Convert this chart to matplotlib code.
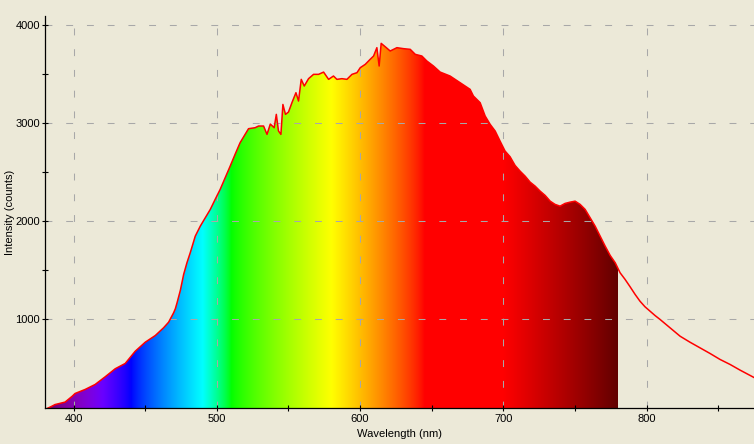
import numpy as np
import matplotlib
matplotlib.use("Agg")
import matplotlib.pyplot as plt

# ---- data ----
wavelength = [380, 384.4, 387, 394, 399, 401, 408, 415, 422, 429, 436, 443, 450, 457,
              462.8, 466.3, 469.8, 471, 472.2, 474.5, 476.8, 479.1, 481.4, 484.9, 488.4,
              491.9, 495.4, 498.8, 502.3, 505.8, 509.3, 512.7, 516.2, 519.7, 522.1, 526.7,
              529.1, 532.6, 535, 537.3, 540, 541.5, 543, 544.7, 546.1, 547.9, 550, 552.4,
              555.2, 557, 558.9, 561, 564, 567.5, 571, 574.5, 578, 581.4, 583.8, 587.3,
              590.8, 594.3, 597.8, 600.1, 603.6, 607, 609.4, 611.7, 613.3, 614.7, 617.5,
              621, 625.7, 630.3, 635, 638.5, 643.1, 646.6, 651.2, 655.9, 662.8, 669.8,
              676.8, 679.1, 683.8, 687.3, 690.8, 694.3, 697.7, 701.2, 704.7, 708.2, 711.7,
              715.2, 718.7, 722.2, 725.7, 729.2, 732.7, 736.1, 739.6, 743.1, 746.6, 750.1,
              753.6, 757.1, 760.6, 764.1, 767.6, 771.1, 774.6, 778.1, 781.5, 785, 788.5,
              792, 795.4, 798.9, 802.4, 805.9, 809.4, 816.4, 823.4, 830.3, 837.3, 844.3,
              851.3, 858.3, 865.3, 872.3, 875]
intensity = [80, 110, 130, 155, 215, 243, 284, 335, 413, 495, 549, 674, 766, 834,
             913, 970, 1066, 1107, 1168, 1295, 1457, 1576, 1678, 1847, 1949,
             2035, 2120, 2222, 2324, 2443, 2562, 2681, 2800, 2885, 2943, 2953,
             2970, 2970, 2885, 2990, 2953, 3089, 2920, 2885, 3190, 3089, 3113, 3208,
             3310, 3225, 3446, 3378, 3453, 3497, 3497, 3520, 3446, 3480, 3446, 3453,
             3446, 3497, 3514, 3565, 3599, 3650, 3684, 3769, 3582, 3813, 3779,
             3735, 3769, 3759, 3752, 3701, 3684, 3633, 3582, 3520, 3480, 3412,
             3344, 3276, 3208, 3072, 2987, 2919, 2817, 2715, 2657, 2568, 2510,
             2459, 2398, 2357, 2306, 2262, 2204, 2171, 2153, 2181, 2194, 2204,
             2171, 2120, 2035, 1949, 1847, 1745, 1650, 1576, 1474, 1406, 1331,
             1253, 1184, 1127, 1082, 1038, 998, 913, 827, 766, 709, 651,
             590, 539, 481, 426, 406]
visible_range = (380, 780)
x_major = [400, 500, 600, 700, 800]
y_major = [1000, 2000, 3000, 4000]

BG = "#ECE9D8"


def wl_to_rgb(w, gamma=0.8):
    if w < 440:
        r, g, b = -(w - 440) / 60.0, 0.0, 1.0
    elif w < 490:
        r, g, b = 0.0, (w - 440) / 50.0, 1.0
    elif w < 510:
        r, g, b = 0.0, 1.0, -(w - 510) / 20.0
    elif w < 580:
        r, g, b = (w - 510) / 70.0, 1.0, 0.0
    elif w < 645:
        r, g, b = 1.0, -(w - 645) / 65.0, 0.0
    else:
        r, g, b = 1.0, 0.0, 0.0
    if w < 420:
        f = 0.3 + 0.7 * (w - 380) / 40.0
    elif w <= 700:
        f = 1.0
    else:
        f = 0.3 + 0.7 * (780 - w) / 80.0
    return [(c * f) ** gamma if c > 0 else 0.0 for c in (r, g, b)]


plt.rcParams["font.family"] = ["Liberation Sans", "DejaVu Sans"]
plt.rcParams["font.size"] = 8

fig = plt.figure(figsize=(7.54, 4.44), dpi=100, facecolor=BG)
ax = fig.add_axes([45 / 754, 36 / 444, 709 / 754, 392 / 444])
ax.set_facecolor(BG)

wl = np.array(wavelength, dtype=float)
inten = np.array(intensity, dtype=float)

ymin, ymax = 95, 4092
xmin, xmax = 380, 875

# coloured spectrum under the curve
poly = ax.fill_between(wl, -1000, inten, facecolor="none", edgecolor="none")
grad_w = np.linspace(visible_range[0], visible_range[1], 800)
colors = np.array([wl_to_rgb(w) for w in grad_w])[np.newaxis, :, :]
im = ax.imshow(colors, extent=[visible_range[0], visible_range[1], -1000, 5000],
               aspect="auto", origin="lower", interpolation="bilinear", zorder=1)
im.set_clip_path(poly.get_paths()[0], transform=ax.transData)

ax.plot(wl, inten, color="#FF0000", lw=1.1, zorder=3)

ax.set_xlim(xmin, xmax)
ax.set_ylim(ymin, ymax)

ax.set_xticks(x_major)
ax.set_xticks(np.arange(450, 900, 100), minor=True)
ax.set_yticks(y_major)
ax.set_yticks([1500, 2500, 3500], minor=True)

ax.grid(True, which="major", color="#A8A8A8", lw=0.75, linestyle=(0, (6.6, 13.3)), zorder=2)
ax.set_axisbelow(False)
for gl in ax.get_xgridlines() + ax.get_ygridlines():
    gl.set_zorder(2)

for s in ("top", "right"):
    ax.spines[s].set_visible(False)
for s in ("left", "bottom"):
    ax.spines[s].set_color("black")
    ax.spines[s].set_linewidth(0.9)
    ax.spines[s].set_zorder(4)

ax.tick_params(which="both", direction="inout", length=4, width=0.8, color="black",
               labelsize=8, labelcolor="black")
ax.tick_params(axis="y", pad=1.5)
ax.tick_params(axis="x", pad=2.0)

ax.set_xlabel("Wavelength (nm)")
ax.set_ylabel("Intensity (counts)")
ax.xaxis.set_label_coords(399.5 / 754, (444 - 433.5) / 444, transform=fig.transFigure)
ax.xaxis.label.set_verticalalignment("center")
ax.yaxis.set_label_coords(10.5 / 754, (444 - 212) / 444, transform=fig.transFigure)
ax.yaxis.label.set_verticalalignment("center")

fig.savefig("out.png", dpi=100, facecolor=BG)
